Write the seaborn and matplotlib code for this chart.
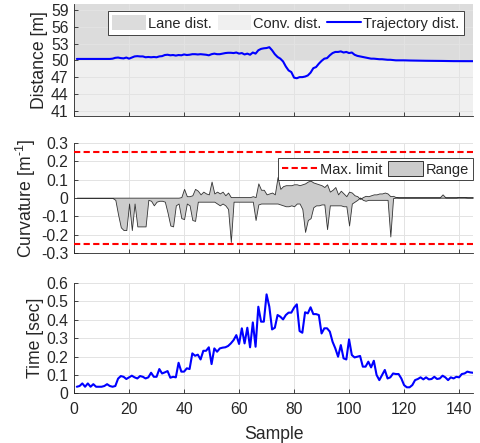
import numpy as np
import pandas as pd
import matplotlib
matplotlib.use("Agg")
import matplotlib.pyplot as plt
import seaborn as sns
from matplotlib.patches import Patch
from matplotlib.lines import Line2D

# ---------------- data ----------------
samples = list(range(1, 146))

trajectory_dist = [
    50.25, 50.25, 50.25, 50.25, 50.25, 50.25, 50.25, 50.25, 50.25, 50.25,
    50.25, 50.25, 50.25, 50.3, 50.45, 50.5, 50.4, 50.35, 50.5, 50.3,
    50.5, 50.7, 50.75, 50.7, 50.7, 50.55, 50.6, 50.55, 50.6, 50.55,
    50.7, 50.75, 50.95, 51.0, 50.9, 50.95, 50.85, 50.95, 50.9, 51.05,
    50.95, 51.0, 51.1, 51.1, 51.05, 51.1, 51.05, 51.0, 50.9, 51.1,
    51.2, 51.1, 51.1, 51.2, 51.3, 51.35, 51.35, 51.3, 51.4, 51.2,
    51.3, 51.05, 51.2, 51.0, 51.4, 51.2, 51.8, 52.05, 52.15, 52.2,
    52.35, 51.8, 51.1, 50.6, 50.3, 49.8, 48.9, 48.2, 47.9, 46.9,
    46.8, 47.0, 47.0, 47.1, 47.3, 47.8, 48.6, 48.8, 49.4, 49.9,
    50.3, 50.4, 50.9, 51.3, 51.5, 51.5, 51.6, 51.4, 51.5, 51.3,
    51.4, 51.0, 50.8, 50.7, 50.6, 50.5, 50.4, 50.3, 50.3, 50.25,
    50.2, 50.2, 50.15, 50.1, 50.1, 50.05, 50.0, 50.0, 50.0, 50.0,
    49.98, 49.97, 49.96, 49.95, 49.95, 49.94, 49.93, 49.92, 49.92, 49.91,
    49.9, 49.9, 49.9, 49.89, 49.88, 49.88, 49.87, 49.86, 49.86, 49.85,
    49.85, 49.85, 49.85, 49.85, 49.85,
]

curv_upper = [
    0.002, 0.002, 0.002, 0.002, 0.002, 0.002, 0.002, 0.002, 0.002, 0.002,
    0.002, 0.002, 0.002, 0.002, 0.002, 0.002, 0.002, 0.002, 0.002, 0.002,
    0.002, 0.002, 0.002, 0.002, 0.002, 0.002, 0.002, 0.002, 0.002, 0.002,
    0.002, 0.002, 0.002, 0.002, 0.002, 0.002, 0.002, 0.002, 0.005, 0.05,
    0.01, 0.01, 0.015, 0.05, 0.04, 0.02, 0.035, 0.025, 0.02, 0.09,
    0.025, 0.035, 0.025, 0.035, 0.015, 0.03, 0.005, 0.005, 0.005, 0.005,
    0.005, 0.005, 0.005, 0.005, 0.01, 0.005, 0.08, 0.045, 0.045, 0.02,
    0.025, 0.03, 0.02, 0.115, 0.05, 0.065, 0.07, 0.07, 0.07, 0.075,
    0.075, 0.07, 0.075, 0.08, 0.09, 0.095, 0.085, 0.08, 0.075, 0.07,
    0.06, 0.075, 0.035, 0.045, 0.06, 0.02, 0.04, 0.025, 0.01, 0.035,
    0.03, 0.015, 0.01, -0.005, 0.005, 0.012, 0.01, 0.015, 0.02, 0.02,
    0.025, 0.025, 0.03, 0.025, 0.01, 0.012, 0.005, 0.004, 0.004, 0.004,
    0.004, 0.004, 0.004, 0.004, 0.004, 0.004, 0.004, 0.004, 0.004, 0.004,
    0.004, 0.004, 0.004, 0.02, 0.004, 0.004, 0.004, 0.004, 0.004, 0.006,
    0.006, 0.005, 0.004, 0.004, 0.004,
]

curv_lower = [
    0.0, 0.0, 0.0, 0.0, 0.0, 0.0, 0.0, 0.0, 0.0, 0.0,
    0.0, 0.0, 0.0, 0.0, -0.01, -0.09, -0.16, -0.175, -0.175, -0.03,
    -0.175, -0.03, -0.155, -0.155, -0.155, -0.155, -0.01, -0.015, -0.04, -0.02,
    -0.015, -0.015, -0.02, -0.08, -0.15, -0.155, -0.04, -0.03, -0.11, -0.115,
    -0.03, -0.04, -0.12, -0.125, -0.02, -0.02, -0.02, -0.02, -0.02, -0.02,
    -0.02, -0.03, -0.04, -0.03, -0.04, -0.06, -0.24, -0.02, -0.02, -0.02,
    -0.02, -0.02, -0.02, -0.02, -0.02, -0.12, -0.035, -0.03, -0.03, -0.03,
    -0.03, -0.03, -0.03, -0.03, -0.035, -0.04, -0.045, -0.045, -0.04, -0.045,
    -0.03, -0.03, -0.06, -0.185, -0.12, -0.11, -0.05, -0.04, -0.04, -0.035,
    -0.035, -0.17, -0.04, -0.04, -0.04, -0.04, -0.04, -0.045, -0.045, -0.15,
    -0.03, -0.02, -0.01, 0.003, -0.01, -0.015, -0.01, -0.01, -0.01, -0.01,
    -0.01, -0.01, -0.01, -0.01, -0.21, 0.0, 0.002, 0.002, 0.002, 0.002,
    0.002, 0.002, 0.002, 0.002, 0.002, 0.002, 0.002, 0.002, 0.002, 0.002,
    0.002, 0.002, 0.002, 0.002, 0.002, 0.002, 0.002, 0.002, 0.002, 0.002,
    0.002, 0.002, 0.002, 0.002, 0.002,
]

max_limit = 0.25

comp_time = [
    0.036, 0.04, 0.054, 0.036, 0.054, 0.036, 0.05, 0.036, 0.036, 0.036,
    0.04, 0.05, 0.04, 0.036, 0.04, 0.08, 0.094, 0.09, 0.078, 0.087,
    0.096, 0.087, 0.081, 0.094, 0.09, 0.081, 0.087, 0.112, 0.09, 0.09,
    0.132, 0.108, 0.114, 0.121, 0.085, 0.09, 0.087, 0.166, 0.118, 0.118,
    0.136, 0.132, 0.217, 0.204, 0.21, 0.184, 0.231, 0.231, 0.25, 0.159,
    0.244, 0.226, 0.244, 0.248, 0.25, 0.257, 0.271, 0.289, 0.316, 0.268,
    0.353, 0.271, 0.356, 0.25, 0.385, 0.253, 0.47, 0.389, 0.389, 0.537,
    0.47, 0.347, 0.356, 0.425, 0.416, 0.401, 0.425, 0.438, 0.438, 0.465,
    0.483, 0.338, 0.329, 0.44, 0.434, 0.467, 0.43, 0.43, 0.425, 0.325,
    0.353, 0.353, 0.335, 0.28, 0.244, 0.199, 0.262, 0.19, 0.184, 0.293,
    0.208, 0.195, 0.199, 0.203, 0.145, 0.145, 0.172, 0.141, 0.177, 0.1,
    0.072, 0.1, 0.127, 0.081, 0.087, 0.108, 0.105, 0.105, 0.081, 0.045,
    0.033, 0.033, 0.045, 0.072, 0.078, 0.087, 0.076, 0.087, 0.076, 0.078,
    0.09, 0.078, 0.081, 0.096, 0.087, 0.072, 0.087, 0.081, 0.09, 0.087,
    0.105, 0.108, 0.118, 0.114, 0.112,
]

lane_band = (50, 60)
conv_band = (40, 50)

dist_yticks = [41, 44, 47, 50, 53, 56, 59]
curv_yticks = [-0.3, -0.2, -0.1, 0, 0.1, 0.2, 0.3]
curv_yticklabels = ["-0.3", "-0.2", "-0.1", "0", "0.1", "0.2", "0.3"]
time_yticks = [0, 0.1, 0.2, 0.3, 0.4, 0.5, 0.6]
time_yticklabels = ["0", "0.1", "0.2", "0.3", "0.4", "0.5", "0.6"]
xticks = [0, 20, 40, 60, 80, 100, 120, 140]

df = pd.DataFrame({"Sample": samples, "dist": trajectory_dist,
                   "upper": curv_upper, "lower": curv_lower, "time": comp_time})

# ---------------- style ----------------
sns.set_theme(style="white")
plt.rcParams["font.family"] = ["Liberation Sans", "DejaVu Sans"]
plt.rcParams["axes.unicode_minus"] = False
plt.rcParams["mathtext.fontset"] = "custom"
plt.rcParams["mathtext.rm"] = "Liberation Sans"
plt.rcParams["mathtext.it"] = "Liberation Sans"
plt.rcParams["mathtext.default"] = "regular"

TXT = "#262626"
GRID = "#e3e3e3"
DASH = (0, (3.0, 1.6))

fig = plt.figure(figsize=(4.81, 4.43), dpi=100)
L, W = 0.154, 0.829
ax1 = fig.add_axes([L, 0.7375, W, 0.2526])
ax2 = fig.add_axes([L, 0.429, W, 0.248])
ax3 = fig.add_axes([L, 0.112, W, 0.2497])

def style(ax):
    ax.set_xlim(0, 145)
    ax.set_xticks(xticks)
    ax.grid(True, color=GRID, lw=0.7)
    ax.set_axisbelow("line")
    for s in ["top", "right"]:
        ax.spines[s].set_visible(False)
    for s in ["left", "bottom"]:
        ax.spines[s].set_color(TXT)
        ax.spines[s].set_linewidth(0.6)
    ax.tick_params(direction="in", length=3, width=0.6, colors=TXT,
                   labelsize=11.3, labelcolor=TXT, left=True, bottom=True)
    ax.tick_params(axis="y", pad=4)
    ax.tick_params(axis="x", pad=6)
    ax.yaxis.label.set_color(TXT)
    ax.xaxis.label.set_color(TXT)

# ---- panel 1 ----
ax1.fill_between([0, 145], lane_band[0], lane_band[1], color="#dcdcdc", lw=0, zorder=1)
ax1.fill_between([0, 145], conv_band[0], conv_band[1], color="#f0f0f0", lw=0, zorder=1)
sns.lineplot(data=df, x="Sample", y="dist", ax=ax1, color="#0000ff", lw=1.5, zorder=3)
ax1.set_ylim(40, 60)
ax1.set_yticks(dist_yticks)
style(ax1)
ax1.set_xticklabels([])
ax1.set_xlabel("")
ax1.set_ylabel("Distance [m]", fontsize=12.7, labelpad=2)
h1 = [Patch(facecolor="#dcdcdc", edgecolor="none"),
      Patch(facecolor="#f0f0f0", edgecolor="none"),
      Line2D([], [], color="#0000ff", lw=1.5)]
leg1 = ax1.legend(h1, ["Lane dist.", "Conv. dist.", "Trajectory dist."], ncol=3,
                  loc="upper right", bbox_to_anchor=(0.977, 0.941), fontsize=10.5,
                  frameon=True, fancybox=False, framealpha=1, edgecolor=TXT,
                  handlelength=2.3, handleheight=1.2, handletextpad=0.15,
                  columnspacing=0.4, borderpad=0.3, borderaxespad=0)
leg1.get_frame().set_linewidth(0.6)

# ---- panel 2 ----
ax2.fill_between(df["Sample"], df["lower"], df["upper"], facecolor="#cccccc",
                 edgecolor="#333333", lw=0.6, zorder=2)
ax2.axhline(max_limit, color="#ff0000", ls=DASH, lw=1.5, zorder=3)
ax2.axhline(-max_limit, color="#ff0000", ls=DASH, lw=1.5, zorder=3)
ax2.set_ylim(-0.3, 0.3)
ax2.set_yticks(curv_yticks)
ax2.set_yticklabels(curv_yticklabels)
style(ax2)
ax2.set_xticklabels([])
ax2.set_xlabel("")
ax2.set_ylabel(r"Curvature [m$^{\text{-1}}$]", fontsize=12.7, labelpad=2)
h2 = [Line2D([], [], color="#ff0000", ls=DASH, lw=1.5),
      Patch(facecolor="#cccccc", edgecolor="#333333", lw=0.7)]
leg2 = ax2.legend(h2, ["Max. limit", "Range"], ncol=2, loc="upper right",
                  bbox_to_anchor=(1.0, 0.866), fontsize=10.5, frameon=True,
                  fancybox=False, framealpha=1, edgecolor=TXT, handlelength=2.4,
                  handleheight=1.2, handletextpad=0.2, columnspacing=0.4,
                  borderpad=0.25, borderaxespad=0)
leg2.get_frame().set_linewidth(0.6)

# ---- panel 3 ----
sns.lineplot(data=df, x="Sample", y="time", ax=ax3, color="#0000ff", lw=1.5, zorder=3)
ax3.set_ylim(0, 0.6)
ax3.set_yticks(time_yticks)
ax3.set_yticklabels(time_yticklabels)
style(ax3)
ax3.set_xlabel("Sample", fontsize=12.7, labelpad=7)
ax3.set_ylabel("Time [sec]", fontsize=12.7, labelpad=2)

fig.savefig("out.png", dpi=100)
